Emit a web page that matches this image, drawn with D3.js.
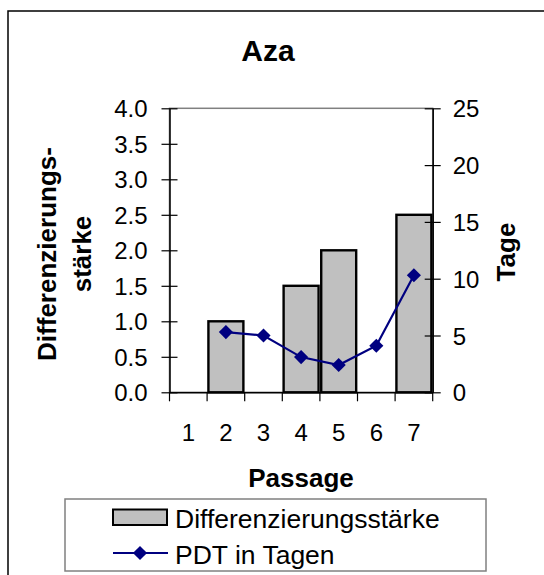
<!DOCTYPE html>
<html><head><meta charset="utf-8">
<script src="https://cdn.jsdelivr.net/npm/d3@7"></script>
<style>
html,body{margin:0;padding:0;background:#fff;}
svg{display:block;font-family:"Liberation Sans",Arial,sans-serif;}
</style></head>
<body><svg id="chart" width="544" height="575"></svg>
<script>
const categories = ["1","2","3","4","5","6","7"];
const diffValues = [null, 1.0, null, 1.5, 2.0, null, 2.5];
const pdtValues = [null, 5.3, 5.0, 3.1, 2.4, 4.1, 10.3];
const leftTicks = [0,0.5,1,1.5,2,2.5,3,3.5,4];
const rightTicks = [0,5,10,15,20,25];
const title = "Aza";
const xTitle = "Passage";
const yTitleLines = ["Differenzierungs-","stärke"];
const y2Title = "Tage";
const legendLabels = ["Differenzierungsstärke","PDT in Tagen"];

const svg = d3.select("#chart");
const L = 169.5, R = 432.7, T = 108.3, B = 392.3;

const x = d3.scaleBand().domain(categories).range([L, R]).padding(0);
const y = d3.scaleLinear().domain([0, 4]).range([B, T]);
const y2 = d3.scaleLinear().domain([0, 25]).range([B, T]);

// outer frame
svg.append("rect").attr("x", 8).attr("y", 11).attr("width", 600).attr("height", 600)
  .attr("fill", "none").attr("stroke", "#000").attr("stroke-width", 1.5);

// title
svg.append("text").attr("x", 268).attr("y", 61).attr("text-anchor", "middle")
  .attr("font-size", 30).attr("font-weight", "bold").text(title);

// plot area border
svg.append("rect").attr("x", L).attr("y", T).attr("width", R - L).attr("height", B - T)
  .attr("fill", "none").attr("stroke", "#808080").attr("stroke-width", 1.5);

// bars
const bw = x.bandwidth();
svg.append("g").selectAll("rect")
  .data(categories.map((c, i) => ({c, v: diffValues[i]})).filter(d => d.v != null))
  .join("rect")
  .attr("x", d => x(d.c) + bw * 0.035)
  .attr("width", bw * 0.93)
  .attr("y", d => y(d.v))
  .attr("height", d => y(0) - y(d.v))
  .attr("fill", "#c0c0c0").attr("stroke", "#000").attr("stroke-width", 2.4);

// left axis
const gL = svg.append("g").attr("transform", `translate(${L},0)`)
  .call(d3.axisLeft(y).tickValues(leftTicks).tickFormat(d3.format(".1f")).tickSizeInner(8).tickSizeOuter(0).tickPadding(14));
gL.selectAll(".tick line").attr("x2", 8).attr("x1", -8);
// right axis
const gR = svg.append("g").attr("transform", `translate(${R},0)`)
  .call(d3.axisRight(y2).tickValues(rightTicks).tickFormat(d3.format("d")).tickSizeInner(8).tickSizeOuter(0).tickPadding(12));
gR.selectAll(".tick line").attr("x1", -8).attr("x2", 8);
// bottom axis: ticks at category boundaries
const gB = svg.append("g").attr("transform", `translate(0,${B})`)
  .call(d3.axisBottom(x).tickSize(0).tickPadding(32));
const bounds = categories.map(c => x(c)).concat([R]);
gB.selectAll(".boundary").data(bounds).join("line").attr("class", "boundary")
  .attr("x1", d => d).attr("x2", d => d).attr("y1", 0).attr("y2", 9)
  .attr("stroke", "#000").attr("stroke-width", 1.2);

[gL, gR, gB].forEach(g => {
  g.selectAll(".domain").attr("stroke", "#000").attr("stroke-width", 1.5);
  g.selectAll(".tick line").attr("stroke", "#000").attr("stroke-width", 1.2);
  g.selectAll("text").attr("font-size", 24).attr("fill", "#000")
    .attr("font-family", "'Liberation Sans',Arial,sans-serif");
});
gL.selectAll(".tick text").attr("dy", "0.36em");
gR.selectAll(".tick text").attr("dy", "0.36em");

// line series
const pts = categories.map((c, i) => ({c, v: pdtValues[i]})).filter(d => d.v != null);
svg.append("path").datum(pts)
  .attr("d", d3.line().x(d => x(d.c) + bw / 2).y(d => y2(d.v)))
  .attr("fill", "none").attr("stroke", "#000080").attr("stroke-width", 2.2);
svg.append("g").selectAll("path").data(pts).join("path")
  .attr("d", d3.symbol().type(d3.symbolSquare).size(100))
  .attr("transform", d => `translate(${x(d.c) + bw / 2},${y2(d.v)}) rotate(45)`)
  .attr("fill", "#000080");

// axis titles
svg.append("text").attr("x", 301).attr("y", 487).attr("text-anchor", "middle")
  .attr("font-size", 26).attr("font-weight", "bold").text(xTitle);
const yt = svg.append("text").attr("transform", "translate(0,254) rotate(-90)")
  .attr("text-anchor", "middle").attr("font-size", 26).attr("font-weight", "bold");
yt.append("tspan").attr("x", 0).attr("y", 56).text(yTitleLines[0]);
yt.append("tspan").attr("x", 0).attr("y", 91).text(yTitleLines[1]);
svg.append("text").attr("transform", "translate(515,252) rotate(-90)")
  .attr("text-anchor", "middle").attr("font-size", 26).attr("font-weight", "bold").text(y2Title);

// legend
const lg = svg.append("g");
lg.append("rect").attr("x", 65).attr("y", 499).attr("width", 421).attr("height", 72)
  .attr("fill", "#fff").attr("stroke", "#808080").attr("stroke-width", 1.5);
lg.append("rect").attr("x", 113).attr("y", 509.5).attr("width", 54).attr("height", 15.5)
  .attr("fill", "#c0c0c0").attr("stroke", "#000").attr("stroke-width", 2);
lg.append("text").attr("x", 175).attr("y", 527.5).attr("font-size", 26.5).text(legendLabels[0]);
lg.append("line").attr("x1", 113).attr("x2", 168).attr("y1", 553).attr("y2", 553)
  .attr("stroke", "#000080").attr("stroke-width", 2.2);
lg.append("path").attr("d", d3.symbol().type(d3.symbolSquare).size(100)())
  .attr("transform", "translate(140,553) rotate(45)").attr("fill", "#000080");
lg.append("text").attr("x", 175).attr("y", 563.5).attr("font-size", 26.5).text(legendLabels[1]);
</script></body></html>
